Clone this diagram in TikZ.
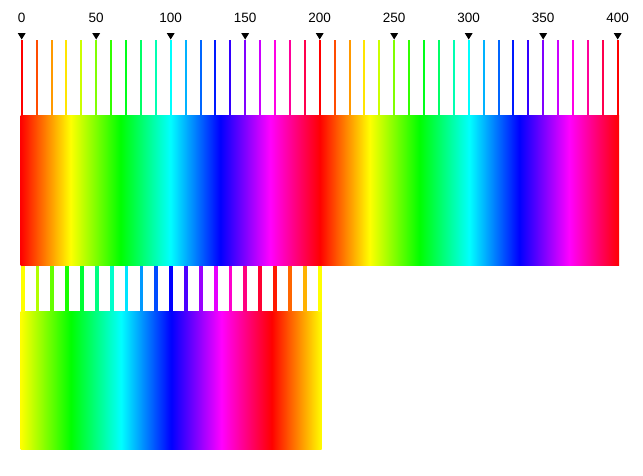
\documentclass[tikz,border=0pt]{standalone}
\usepackage{fontspec}
\setmainfont{Liberation Sans}
\usepackage{xcolor}
\usetikzlibrary{positioning}

% two hue cycles over the upper strip
\pgfdeclarehorizontalshading{huetwice}{100bp}{%
  rgb(0bp)=(1,0,0); rgb(25bp)=(1,0,0);
  rgb(29.1667bp)=(1,1,0); rgb(33.3333bp)=(0,1,0);
  rgb(37.5bp)=(0,1,1); rgb(41.6667bp)=(0,0,1);
  rgb(45.8333bp)=(1,0,1); rgb(50bp)=(1,0,0);
  rgb(54.1667bp)=(1,1,0); rgb(58.3333bp)=(0,1,0);
  rgb(62.5bp)=(0,1,1); rgb(66.6667bp)=(0,0,1);
  rgb(70.8333bp)=(1,0,1); rgb(75bp)=(1,0,0);
  rgb(100bp)=(1,0,0)}
% one hue cycle, starting at yellow, for the lower strip
\pgfdeclarehorizontalshading{hueshifted}{100bp}{%
  rgb(0bp)=(1,1,0); rgb(25bp)=(1,1,0);
  rgb(33.3333bp)=(0,1,0); rgb(41.6667bp)=(0,1,1);
  rgb(50bp)=(0,0,1); rgb(58.3333bp)=(1,0,1);
  rgb(66.6667bp)=(1,0,0); rgb(75bp)=(1,1,0);
  rgb(100bp)=(1,1,0)}

\begin{document}
\begin{tikzpicture}[
    x=1pt, y=-1pt,
    lbl/.style={font=\fontsize{13.5}{16}\selectfont, inner sep=0pt},
    marker/.style={fill=black},
  ]
    \useasboundingbox (0,0) rectangle (643,475);

    % upper strip
    \shade[shading=huetwice] (20.7,115) rectangle (619,265);
    \foreach \i in {0,...,40} {
      \pgfmathsetmacro\hx{21.7+14.9*\i}
      \pgfmathsetmacro\hh{mod(18*\i,360)}
      \definecolor{barcol}{Hsb}{\hh,1,1}
      \fill[barcol] (\hx-1,40) rectangle (\hx+1,115.5);
    }

    % scale labels and markers
    \foreach \v in {0,50,...,400} {
      \pgfmathsetmacro\hx{21.7+1.49*\v}
      \node[lbl] (lbl\v) at (\hx,18) {\v};
      \fill[marker] (\hx-4,33) -- (\hx+4,33) -- (\hx,39.5) -- cycle;
    }

    % lower strip
    \shade[shading=hueshifted] (20.7,311) rectangle (321.7,449);
    \foreach \i in {0,...,20} {
      \pgfmathsetmacro\hx{20.7+14.85*\i}
      \pgfmathsetmacro\hh{mod(60+18*\i,360)}
      \definecolor{barcol}{Hsb}{\hh,1,1}
      \fill[barcol] (\hx,266) rectangle (\hx+3.8,311.5);
    }
\end{tikzpicture}
\end{document}
